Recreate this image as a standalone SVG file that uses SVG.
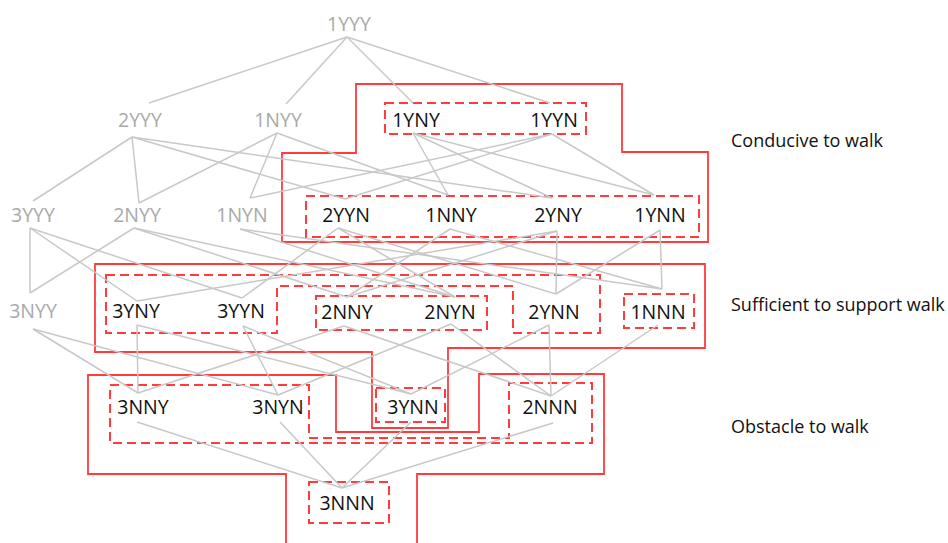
<svg xmlns="http://www.w3.org/2000/svg" width="948" height="543" viewBox="0 0 948 543">
<style>
.e{stroke:#c8c8c8;stroke-width:1.5;fill:none}
.s{stroke:#ff3b3b;stroke-width:1.8;fill:none}
.d{stroke:#ff3b3b;stroke-width:2;fill:none;stroke-dasharray:9 5}
text{font-family:"Open Sans","Liberation Sans",sans-serif;font-size:19.5px;text-anchor:middle;fill:#111}
.g{fill:#a9a9a9}
.lbl{font-size:18px;text-anchor:start}
</style>
<rect width="948" height="543" fill="#fff"/>
<g id="regions">
<polygon class="s" points="356,84 622,84 622,152 708,152 708,242 282,242 282,153 356,153"/>
<polygon class="s" points="95,264 705,264 705,348 448,348 448,428 372,428 372,352 95,352"/>
<polygon class="s" points="88,375 336,375 336,432 479,432 479,374 604,374 604,474 417,474 417,550 286,550 286,474 88,474"/>
<rect class="d" x="385" y="103" width="201" height="31"/>
<rect class="d" x="306" y="196" width="393" height="41"/>
<polygon class="d" points="106,275 600,275 600,333 513,333 513,286 277,286 277,333 106,333"/>
<rect class="d" x="316" y="296" width="171" height="34"/>
<rect class="d" x="624" y="294" width="70" height="34"/>
<rect class="d" x="376" y="388" width="69" height="34"/>
<polygon class="d" points="110,385 309,385 309,438 509,438 509,383 592,383 592,443 110,443"/>
<rect class="d" x="309" y="482" width="80" height="41"/>
</g>
<g id="connectors">
<line class="e" x1="347" y1="37" x2="149" y2="103"/>
<line class="e" x1="347" y1="37" x2="286" y2="104"/>
<line class="e" x1="347" y1="37" x2="413" y2="103"/>
<line class="e" x1="347" y1="37" x2="550" y2="103"/>
<line class="e" x1="132" y1="137" x2="33" y2="201"/>
<line class="e" x1="132" y1="137" x2="139" y2="203"/>
<line class="e" x1="132" y1="137" x2="552" y2="198"/>
<line class="e" x1="132" y1="137" x2="345" y2="199"/>
<line class="e" x1="277" y1="133" x2="139" y2="203"/>
<line class="e" x1="277" y1="133" x2="448" y2="195"/>
<line class="e" x1="277" y1="133" x2="250" y2="198"/>
<line class="e" x1="413" y1="133" x2="552" y2="198"/>
<line class="e" x1="413" y1="133" x2="448" y2="195"/>
<line class="e" x1="413" y1="133" x2="654" y2="195"/>
<line class="e" x1="552" y1="134" x2="345" y2="199"/>
<line class="e" x1="552" y1="134" x2="250" y2="198"/>
<line class="e" x1="552" y1="134" x2="654" y2="195"/>
<line class="e" x1="30" y1="228" x2="30" y2="293"/>
<line class="e" x1="30" y1="228" x2="137" y2="301"/>
<line class="e" x1="30" y1="228" x2="242" y2="298"/>
<line class="e" x1="134" y1="228" x2="30" y2="293"/>
<line class="e" x1="134" y1="228" x2="347" y2="297"/>
<line class="e" x1="134" y1="228" x2="455" y2="297"/>
<line class="e" x1="557" y1="231" x2="137" y2="301"/>
<line class="e" x1="557" y1="231" x2="347" y2="297"/>
<line class="e" x1="557" y1="231" x2="556" y2="294"/>
<line class="e" x1="338" y1="228" x2="242" y2="298"/>
<line class="e" x1="338" y1="228" x2="455" y2="297"/>
<line class="e" x1="338" y1="228" x2="556" y2="294"/>
<line class="e" x1="450" y1="229" x2="347" y2="297"/>
<line class="e" x1="450" y1="229" x2="662" y2="289"/>
<line class="e" x1="240" y1="229" x2="455" y2="297"/>
<line class="e" x1="240" y1="229" x2="662" y2="289"/>
<line class="e" x1="660" y1="230" x2="556" y2="294"/>
<line class="e" x1="660" y1="230" x2="662" y2="289"/>
<line class="e" x1="33" y1="329" x2="138" y2="393"/>
<line class="e" x1="33" y1="329" x2="278" y2="395"/>
<line class="e" x1="137" y1="325" x2="138" y2="393"/>
<line class="e" x1="137" y1="325" x2="411" y2="394"/>
<line class="e" x1="243" y1="326" x2="278" y2="395"/>
<line class="e" x1="243" y1="326" x2="411" y2="394"/>
<line class="e" x1="344" y1="326" x2="138" y2="393"/>
<line class="e" x1="344" y1="326" x2="551" y2="396"/>
<line class="e" x1="451" y1="324" x2="278" y2="395"/>
<line class="e" x1="451" y1="324" x2="551" y2="396"/>
<line class="e" x1="549" y1="325" x2="411" y2="394"/>
<line class="e" x1="549" y1="325" x2="551" y2="396"/>
<line class="e" x1="658" y1="325" x2="551" y2="396"/>
<line class="e" x1="137" y1="422" x2="342" y2="488"/>
<line class="e" x1="280" y1="422" x2="342" y2="488"/>
<line class="e" x1="411" y1="422" x2="342" y2="488"/>
<line class="e" x1="553" y1="423" x2="342" y2="488"/>
</g>
<g id="n1YYY"><text class="g" x="349" y="31">1YYY</text></g>
<g id="n2YYY"><text class="g" x="140" y="127">2YYY</text></g>
<g id="n1NYY"><text class="g" x="278" y="127">1NYY</text></g>
<g id="n1YNY"><text x="416" y="127">1YNY</text></g>
<g id="n1YYN"><text x="554" y="127">1YYN</text></g>
<g id="n3YYY"><text class="g" x="33" y="222">3YYY</text></g>
<g id="n2NYY"><text class="g" x="137" y="222">2NYY</text></g>
<g id="n1NYN"><text class="g" x="242" y="222">1NYN</text></g>
<g id="n2YYN"><text x="346" y="222">2YYN</text></g>
<g id="n1NNY"><text x="451" y="222">1NNY</text></g>
<g id="n2YNY"><text x="558" y="222">2YNY</text></g>
<g id="n1YNN"><text x="660" y="222">1YNN</text></g>
<g id="n3NYY"><text class="g" x="33" y="318">3NYY</text></g>
<g id="n3YNY"><text x="136" y="318">3YNY</text></g>
<g id="n3YYN"><text x="241" y="318">3YYN</text></g>
<g id="n2NNY"><text x="347" y="319">2NNY</text></g>
<g id="n2NYN"><text x="450" y="319">2NYN</text></g>
<g id="n2YNN"><text x="554" y="319">2YNN</text></g>
<g id="n1NNN"><text x="658" y="319">1NNN</text></g>
<g id="n3NNY"><text x="143" y="414">3NNY</text></g>
<g id="n3NYN"><text x="278" y="414">3NYN</text></g>
<g id="n3YNN"><text x="413" y="414">3YNN</text></g>
<g id="n2NNN"><text x="550" y="414">2NNN</text></g>
<g id="n3NNN"><text x="347" y="510">3NNN</text></g>
<g id="labels">
<text class="lbl" x="731" y="147">Conducive to walk</text>
<text class="lbl" x="731" y="311">Sufficient to support walk</text>
<text class="lbl" x="731" y="433">Obstacle to walk</text>
</g>
</svg>
